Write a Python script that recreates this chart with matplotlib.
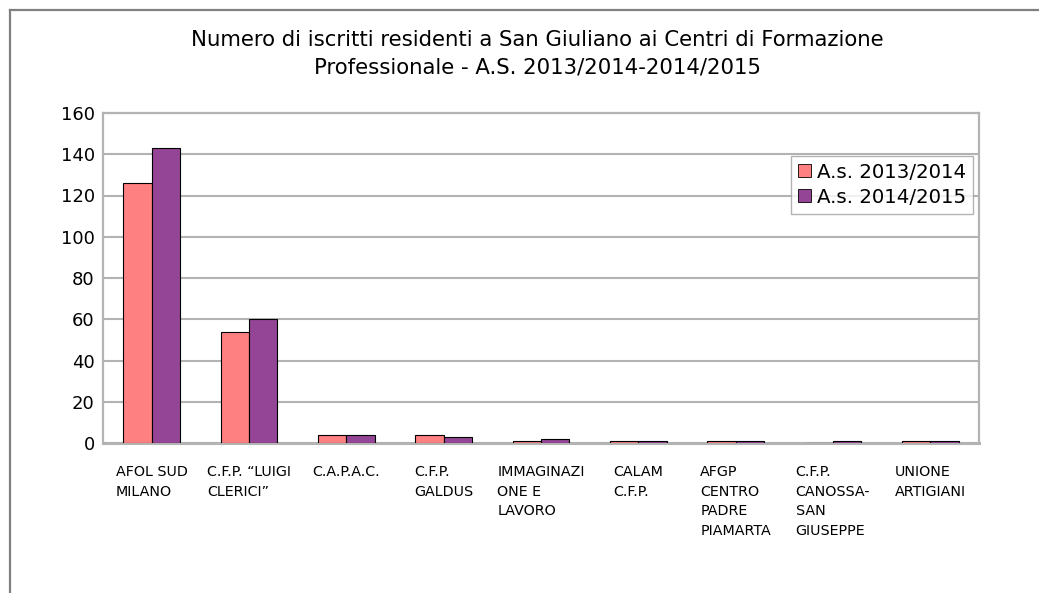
import matplotlib
matplotlib.use("Agg")
import matplotlib.pyplot as plt
import numpy as np
from matplotlib.lines import Line2D

categories = ["AFOL SUD\nMILANO", "C.F.P. \u201cLUIGI\nCLERICI\u201d", "C.A.P.A.C.",
              "C.F.P.\nGALDUS", "IMMAGINAZI\nONE E\nLAVORO", "CALAM\nC.F.P.",
              "AFGP\nCENTRO\nPADRE\nPIAMARTA", "C.F.P.\nCANOSSA-\nSAN\nGIUSEPPE",
              "UNIONE\nARTIGIANI"]
series_names = ["A.s. 2013/2014", "A.s. 2014/2015"]
values_2013 = [126, 54, 4, 4, 1, 1, 1, 0, 1]
values_2014 = [143, 60, 4, 3, 2, 1, 1, 1, 1]
yticks = [0, 20, 40, 60, 80, 100, 120, 140, 160]
title = "Numero di iscritti residenti a San Giuliano ai Centri di Formazione\nProfessionale - A.S. 2013/2014-2014/2015"

plt.rcParams['font.family'] = ['DejaVu Sans']

fig = plt.figure(figsize=(10.39, 5.93), dpi=100)
ax = fig.add_axes([103/1039, 1-443/593, (979-103)/1039, (443-113)/593])

x = np.arange(len(categories))
w = 0.29
colors = ["#FF8080", "#954595"]
ax.bar(x - w/2, values_2013, w, color=colors[0], edgecolor="black", linewidth=0.8,
       label=series_names[0], zorder=3)
ax.bar(x + w/2, values_2014, w, color=colors[1], edgecolor="black", linewidth=0.8,
       label=series_names[1], zorder=3)

ax.set_xlim(-0.5, len(categories) - 0.5)
ax.set_ylim(0, 160)
ax.set_yticks(yticks)
ax.set_yticklabels([str(v) for v in yticks], fontsize=13)
ax.set_xticks(x)
ax.set_xticklabels(categories, fontsize=10.3, multialignment='left', linespacing=1.5,
                   va='top')
ax.tick_params(axis='both', length=0)
ax.tick_params(axis='x', pad=16)
ax.tick_params(axis='y', pad=6)
ax.yaxis.grid(True, color="#B3B3B3", linewidth=1.5, zorder=0)
ax.set_axisbelow(True)
for s in ax.spines.values():
    s.set_color("#B3B3B3")
    s.set_linewidth(1.6)
ax.spines['bottom'].set_linewidth(2.2)

leg = ax.legend(loc='upper right', bbox_to_anchor=(0.993, 0.870), borderaxespad=0,
                fontsize=14.2, frameon=True, fancybox=False, handlelength=0.65,
                handleheight=0.65, handletextpad=0.3, borderpad=0.35, labelspacing=0.3)
leg.get_frame().set_edgecolor("#A0A0A0")
leg.get_frame().set_linewidth(1.0)
for h in leg.legend_handles:
    h.set_edgecolor("black")
    h.set_linewidth(0.6)

fig.text(537/1039, 1-30/593, title, ha='center', va='top', fontsize=15.3,
         linespacing=1.45)

# outer chart frame
fig.add_artist(Line2D([9.5/1039, 9.5/1039], [0, 1-9.5/593], transform=fig.transFigure,
                      color="#808080", linewidth=1.6))
fig.add_artist(Line2D([9.5/1039, 1], [1-9.5/593, 1-9.5/593], transform=fig.transFigure,
                      color="#808080", linewidth=1.6))

fig.savefig("out.png", dpi=100)
